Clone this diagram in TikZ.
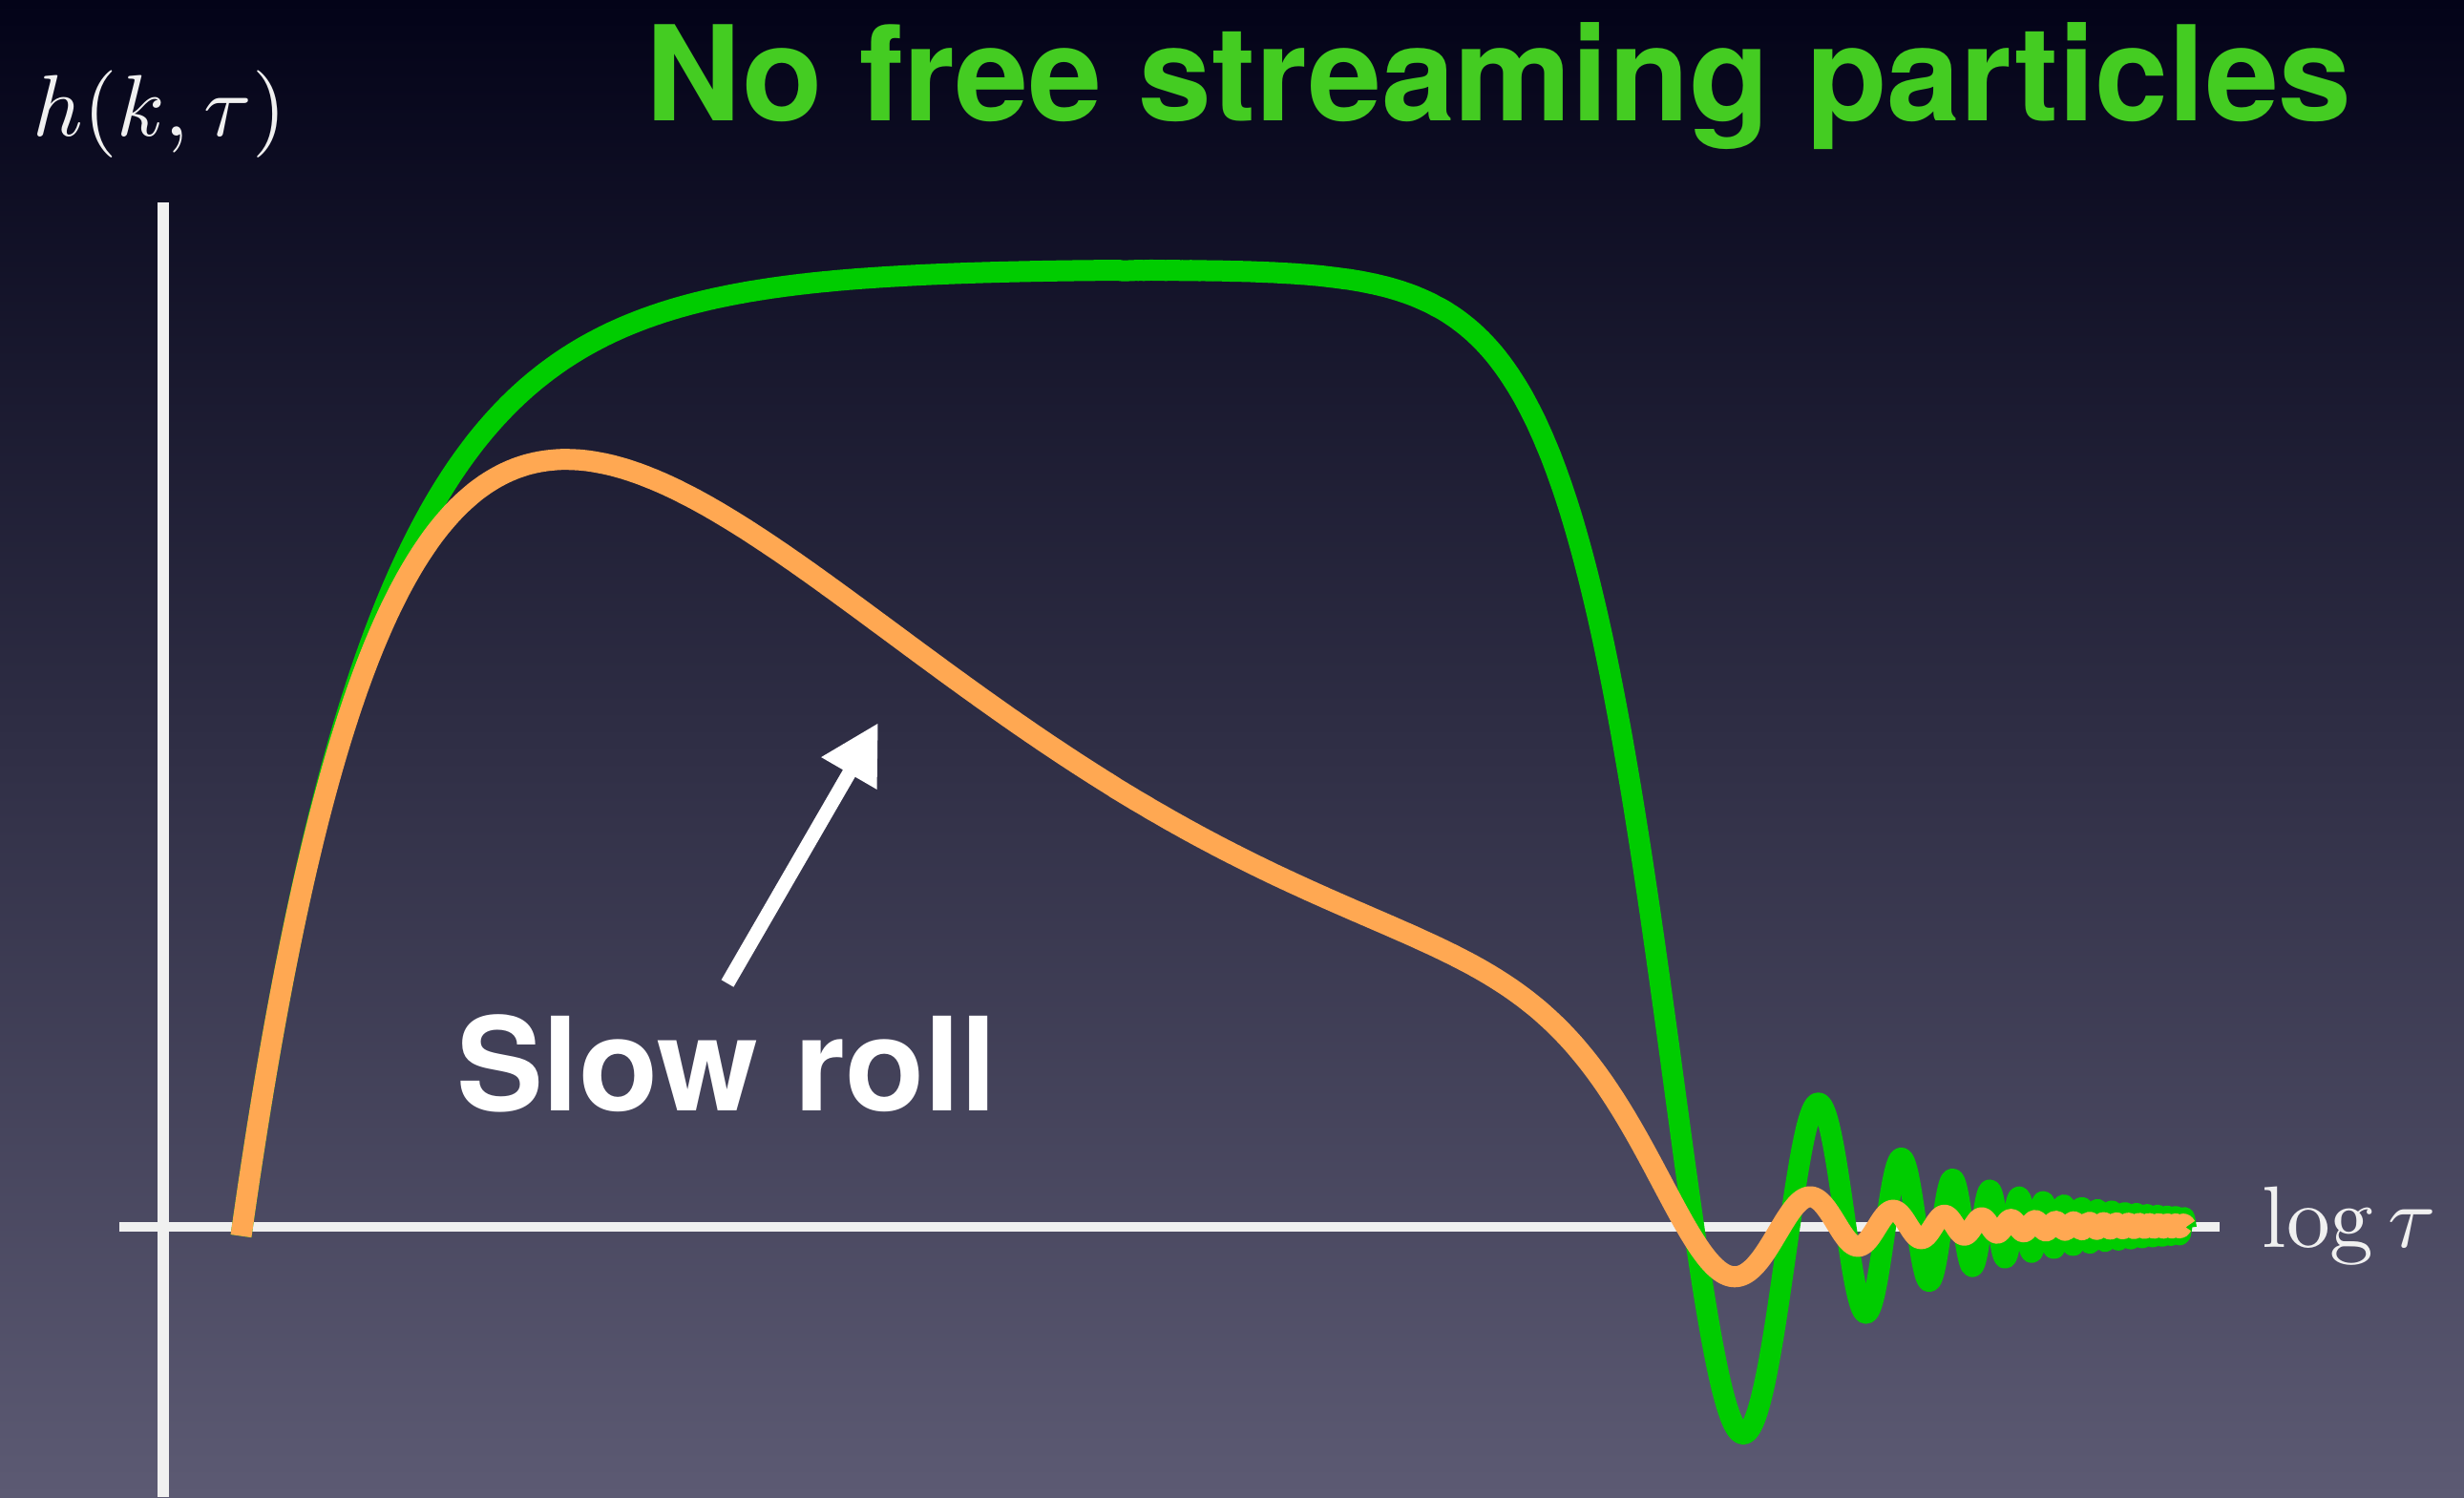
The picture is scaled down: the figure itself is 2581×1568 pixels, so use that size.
\documentclass[tikz,border=0pt]{standalone}
\usepackage{fontspec}
\newfontfamily\heros{TeX Gyre Heros}
\usetikzlibrary{arrows.meta}
\definecolor{bgtop}{RGB}{3,3,24}
\definecolor{bgmid}{RGB}{33,32,68}
\definecolor{bgbot}{RGB}{92,90,115}
\definecolor{curvegreen}{RGB}{0,204,0}
\definecolor{titlegreen}{RGB}{68,204,34}
\definecolor{curveorange}{RGB}{255,168,82}
\definecolor{axiswhite}{RGB}{240,240,240}
\tikzset{
  axisline/.style={draw=axiswhite, line cap=butt},
  curveline/.style={line width=6.26pt, line join=round, line cap=butt},
  bigtext/.style={inner sep=0pt, anchor=base, font=\heros\bfseries\fontsize{#1}{#1}\selectfont},
  mathlabel/.style={inner sep=0pt, anchor=base, text=axiswhite, scale=2.6},
}
\begin{document}
\begin{tikzpicture}[x=0.01cm, y=-0.01cm,
  declare function={
    rise(\t)=1-exp(-(\t-254)/143);
    uu(\t)=4.493*exp((\t-1826)/145);
    jz(\u)=(\u<0.05)?(1-\u*\u/6):(sin(\u r)/max(\u,0.05));
    gcurve(\t)=rise(\t)*jz(uu(\t));
    ocurve(\t)=rise(\t)*(0.22+0.78*exp(-((\t-254)/840)*((\t-254)/840)))*jz(1.06*uu(\t));
  }]
  \useasboundingbox (0,0) rectangle (2581,1568);
  \shade[top color=bgtop, middle color=bgmid, bottom color=bgbot] (0,0) rectangle (2581,1568);

  % axes
  \coordinate (yaxtop) at (171,212);
  \coordinate (yaxbot) at (171,1568);
  \coordinate (xaxl) at (125,1285);
  \coordinate (xaxr) at (2325,1285);
  \draw[axisline, line width=3.13pt] (yaxtop) -- (yaxbot);
  \draw[axisline, line width=2.85pt] (xaxl) -- (xaxr);

  % curves
  \draw[curveline, curvegreen]
    plot[domain=252.5:1700, samples=500] (\x, {1284-1003*gcurve(\x)})
    -- plot[domain=1701:2290, samples=590] (\x, {1284-1003*gcurve(\x)});
  \draw[curveline, curveorange]
    plot[domain=252.5:1700, samples=500] (\x, {1284-1003*ocurve(\x)})
    -- plot[domain=1701:2290, samples=590] (\x, {1284-1003*ocurve(\x)});

  % labels
  \node[mathlabel] (ylabel) at (167,142) {$h(k,\tau)$};
  \node[mathlabel] (xlabel) at (2461,1306) {$\log\tau$};
  \node[bigtext=39.3pt, text=titlegreen] (title) at (1570,126) {No free streaming particles};
  \node[bigtext=38.7pt, text=white] (slowroll) at (761,1163) {Slow roll};

  % arrow
  \coordinate (arrowtail) at (762,1030);
  \coordinate (arrowtip) at (920,757);
  \draw[white, line width=4.2pt, -{Triangle[length=17.4pt, width=17.9pt]}] (arrowtail) -- (arrowtip);
\end{tikzpicture}
\end{document}
